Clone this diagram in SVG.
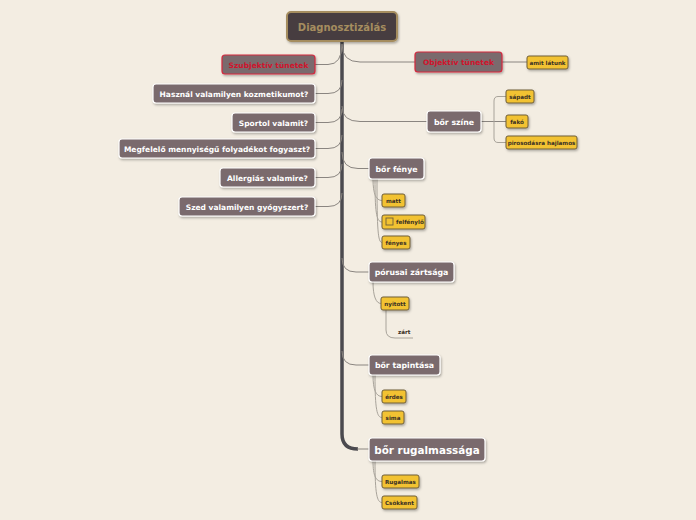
<svg xmlns="http://www.w3.org/2000/svg" width="696" height="520" viewBox="0 0 696 520">
<defs>
<filter id="sh" x="-10%" y="-20%" width="130%" height="160%">
<feDropShadow dx="1" dy="1.5" stdDeviation="1" flood-color="#000" flood-opacity="0.3"/>
</filter>
</defs>
<style>
text{font-family:"DejaVu Sans","Liberation Sans",sans-serif;font-weight:bold;}
.n{fill:#7a6a6d;stroke:#ffffff;stroke-width:1.2;filter:url(#sh);}
.r{fill:#7a6a6d;stroke:#d4283e;stroke-width:1.2;filter:url(#sh);}
.y{fill:#f2c232;stroke:#6f5f3a;stroke-width:1;filter:url(#sh);}
.nt{fill:#ffffff;font-size:7.5px;}
.rt{fill:#d0142c;font-size:7.5px;}
.yt{fill:#3a3024;font-size:5.6px;}
.c{fill:none;stroke:#8a8580;stroke-width:1;}
.cl{fill:none;stroke:#a8a39a;stroke-width:1;}
</style>
<rect width="696" height="520" fill="#f3ede2"/>
<g id="connectors">
<path d="M342,40 L342,434 Q342,449 358,449" fill="none" stroke="#4b4a4f" stroke-width="3.5"/>
<path d="M357,449 L369,449" class="c" stroke-width="1.5"/>
<path class="c" d="M315,64.5 L328,64.5 Q342,64.5 342,44"/>
<path class="c" d="M315,93.5 L328,93.5 Q342,93.5 342,80"/>
<path class="c" d="M315,122.5 L328,122.5 Q342,122.5 342,109"/>
<path class="c" d="M315,148.5 L328,148.5 Q342,148.5 342,135"/>
<path class="c" d="M315,177.5 L328,177.5 Q342,177.5 342,164"/>
<path class="c" d="M315,206.5 L328,206.5 Q342,206.5 342,193"/>
<path class="c" d="M342,44 Q342,62 360,62 L415,62"/>
<path class="c" d="M342,106 Q342,121.5 360,121.5 L427,121.5"/>
<path class="c" d="M342,152 Q342,168.5 358,168.5 L369,168.5"/>
<path class="c" d="M342,258 Q342,272 356,272 L369,272"/>
<path class="c" d="M342,351 Q342,365 356,365 L369,365"/>
<path class="c" d="M502,62 L527,62"/>
<path class="c" d="M481,121.5 L506,121.5"/>
<path class="cl" d="M506,96.5 L498,96.5 Q494,96.5 494,101 L494,138 Q494,142.5 498,142.5 L506,142.5"/>
<path class="cl" d="M373,179 C373,194 376,200.5 382,200.5"/>
<path class="cl" d="M375,179 C375,210 376,222 382,222"/>
<path class="cl" d="M377,179 C377,230 378,242.5 382,242.5"/>
<path class="cl" d="M373,282 C373,296 376,303.5 381,303.5"/>
<path class="cl" d="M386,310 L386,330 Q386,338 395,338 L413,338"/>
<path class="cl" d="M373,375 C373,390 376,396.5 382,396.5"/>
<path class="cl" d="M375,375 C375,410 377,417.5 382,417.5"/>
<path class="cl" d="M373,461 C373,476 376,481.5 382,481.5"/>
<path class="cl" d="M375,461 C375,494 377,502.5 382,502.5"/>
</g>
<g id="root">
<rect x="287" y="12" width="110" height="29" rx="4" fill="#463d41" stroke="#a58d5f" stroke-width="2" filter="url(#sh)"/>
<text x="342" y="30.5" text-anchor="middle" style="font-size:10px" fill="#a58d5f">Diagnosztizálás</text>
</g>
<g id="szubjektiv">
<rect class="r" x="222" y="55" width="93" height="19" rx="3"/>
<text class="rt" x="268.5" y="67.5" text-anchor="middle">Szubjektív tünetek</text>
</g>
<g id="kozmetikum">
<rect class="n" x="153" y="84" width="162" height="19" rx="3"/>
<text class="nt" x="234" y="96.5" text-anchor="middle">Használ valamilyen kozmetikumot?</text>
</g>
<g id="sportol">
<rect class="n" x="232" y="113" width="83" height="19" rx="3"/>
<text class="nt" x="273.5" y="125.5" text-anchor="middle">Sportol valamit?</text>
</g>
<g id="folyadek">
<rect class="n" x="119" y="139" width="196" height="19" rx="3"/>
<text class="nt" x="217" y="151.5" text-anchor="middle">Megfelelő mennyiségű folyadékot fogyaszt?</text>
</g>
<g id="allergias">
<rect class="n" x="220" y="168" width="95" height="19" rx="3"/>
<text class="nt" x="267.5" y="180.5" text-anchor="middle">Allergiás valamire?</text>
</g>
<g id="gyogyszer">
<rect class="n" x="179" y="197" width="136" height="19" rx="3"/>
<text class="nt" x="247" y="209.5" text-anchor="middle">Szed valamilyen gyógyszert?</text>
</g>
<g id="objektiv">
<rect class="r" x="415" y="52" width="87" height="20" rx="3"/>
<text class="rt" x="458.5" y="65" text-anchor="middle">Objektív tünetek</text>
</g>
<g id="amit-latunk">
<rect class="y" x="527" y="56" width="41" height="13" rx="2"/>
<text class="yt" x="547.5" y="64.5" text-anchor="middle">amit látunk</text>
</g>
<g id="bor-szine">
<rect class="n" x="427" y="111" width="54" height="21" rx="3"/>
<text class="nt" x="454" y="124.5" text-anchor="middle" style="font-size:7.8px">bőr színe</text>
</g>
<g id="sapadt">
<rect class="y" x="506" y="90" width="28" height="13" rx="2"/>
<text class="yt" x="520" y="98.5" text-anchor="middle">sápadt</text>
</g>
<g id="fako">
<rect class="y" x="506" y="115" width="22" height="13" rx="2"/>
<text class="yt" x="517" y="123.5" text-anchor="middle">fakó</text>
</g>
<g id="pirosodas">
<rect class="y" x="506" y="136" width="71" height="13" rx="2"/>
<text class="yt" x="541.5" y="144.5" text-anchor="middle">pirosodásra hajlamos</text>
</g>
<g id="bor-fenye">
<rect class="n" x="369" y="158" width="55" height="21" rx="3"/>
<text class="nt" x="396.5" y="171.5" text-anchor="middle" style="font-size:7.8px">bőr fénye</text>
</g>
<g id="matt">
<rect class="y" x="382" y="194" width="23" height="13" rx="2"/>
<text class="yt" x="393.5" y="202.5" text-anchor="middle">matt</text>
</g>
<g id="felfenylo">
<rect class="y" x="382" y="215" width="43" height="14" rx="2"/>
<rect x="386" y="218" width="7" height="7" fill="none" stroke="#6f5f3a" stroke-width="0.9"/>
<text class="yt" x="396" y="224">felfénylő</text>
</g>
<g id="fenyes">
<rect class="y" x="382" y="236" width="28" height="13" rx="2"/>
<text class="yt" x="396" y="244.5" text-anchor="middle">fényes</text>
</g>
<g id="porusai">
<rect class="n" x="369" y="262" width="85" height="20" rx="3"/>
<text class="nt" x="411.5" y="275" text-anchor="middle" style="font-size:7.8px">pórusai zártsága</text>
</g>
<g id="nyitott">
<rect class="y" x="381" y="297" width="28" height="13" rx="2"/>
<text class="yt" x="395" y="305.5" text-anchor="middle">nyitott</text>
</g>
<g id="zart">
<text class="yt" x="398" y="334">zárt</text>
</g>
<g id="bor-tapintasa">
<rect class="n" x="369" y="355" width="71" height="20" rx="3"/>
<text class="nt" x="404.5" y="368" text-anchor="middle" style="font-size:7.8px">bőr tapintása</text>
</g>
<g id="erdes">
<rect class="y" x="382" y="390" width="24" height="13" rx="2"/>
<text class="yt" x="394" y="398.5" text-anchor="middle">érdes</text>
</g>
<g id="sima">
<rect class="y" x="382" y="411" width="22" height="13" rx="2"/>
<text class="yt" x="393" y="419.5" text-anchor="middle">sima</text>
</g>
<g id="bor-rugalmassaga">
<rect class="n" x="369" y="438" width="116" height="23" rx="3"/>
<text class="nt" x="427" y="453.5" text-anchor="middle" style="font-size:10.4px">bőr rugalmassága</text>
</g>
<g id="rugalmas">
<rect class="y" x="382" y="475" width="37" height="13" rx="2"/>
<text class="yt" x="400.5" y="483.5" text-anchor="middle">Rugalmas</text>
</g>
<g id="csokkent">
<rect class="y" x="382" y="496" width="35" height="13" rx="2"/>
<text class="yt" x="399.5" y="504.5" text-anchor="middle">Csökkent</text>
</g>
</svg>
